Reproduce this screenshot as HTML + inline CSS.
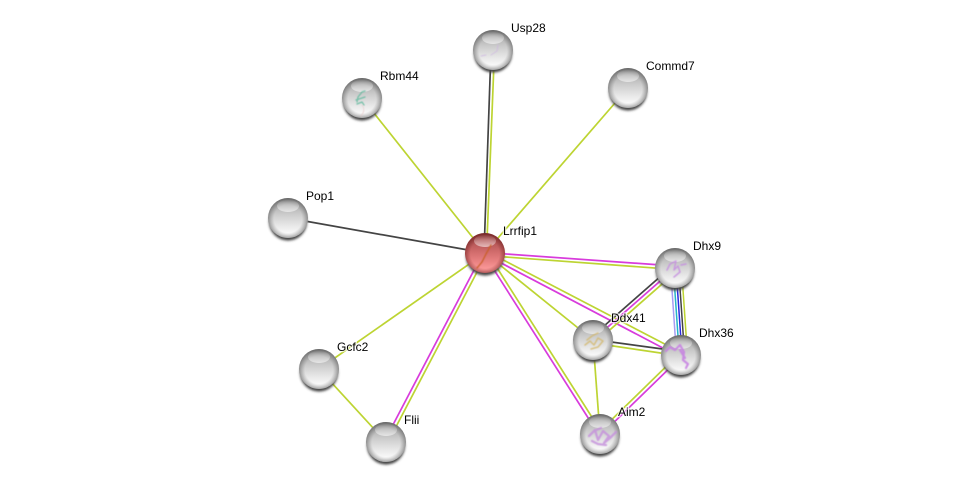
<!DOCTYPE html>
<html>
<head>
<meta charset="utf-8">
<style>
html,body{margin:0;padding:0;background:#fff;}
svg{display:block;}
text{font-family:"Liberation Sans",sans-serif;font-size:12px;fill:#000;paint-order:stroke;stroke:#fff;stroke-width:2.5px;stroke-opacity:.7;}
</style>
</head>
<body>
<svg width="976" height="487" viewBox="0 0 976 487" xmlns="http://www.w3.org/2000/svg">
<defs>
<linearGradient id="g" x1="0" y1="0" x2="0" y2="1">
<stop offset="0" stop-color="#7f7f7f"/>
<stop offset=".12" stop-color="#a8a8a8"/>
<stop offset=".4" stop-color="#cbcbcb"/>
<stop offset=".65" stop-color="#e4e4e4"/>
<stop offset=".9" stop-color="#fbfbfb"/>
<stop offset="1" stop-color="#efefef"/>
</linearGradient>
<radialGradient id="edge" cx=".5" cy=".52" r=".5">
<stop offset=".7" stop-color="#777" stop-opacity="0"/>
<stop offset="1" stop-color="#5c5c5c" stop-opacity=".6"/>
</radialGradient>
<linearGradient id="hl" x1="0" y1="0" x2="0" y2="1">
<stop offset="0" stop-color="#fff" stop-opacity=".05"/>
<stop offset="1" stop-color="#fff" stop-opacity=".7"/>
</linearGradient>
<linearGradient id="r" x1="0" y1="0" x2="0" y2="1">
<stop offset="0" stop-color="#843636"/>
<stop offset=".14" stop-color="#a84c4c"/>
<stop offset=".45" stop-color="#cf6a6a"/>
<stop offset=".7" stop-color="#e88181"/>
<stop offset=".92" stop-color="#fd9b9b"/>
<stop offset="1" stop-color="#ef8c8c"/>
</linearGradient>
<radialGradient id="redge" cx=".5" cy=".52" r=".5">
<stop offset=".72" stop-color="#702020" stop-opacity="0"/>
<stop offset="1" stop-color="#702020" stop-opacity=".55"/>
</radialGradient>
<filter id="b" x="-30%" y="-30%" width="160%" height="160%"><feGaussianBlur stdDeviation="1.2"/></filter>
<filter id="s" x="-20%" y="-20%" width="140%" height="140%"><feGaussianBlur stdDeviation=".45"/></filter>
<g id="n">
<ellipse cx="0" cy="3.6" rx="19" ry="19" fill="#444" filter="url(#b)"/>
<circle r="20" fill="url(#g)"/>
<circle r="20" fill="url(#edge)"/>
<ellipse cx="0" cy="-12" rx="11" ry="6" fill="url(#hl)" opacity=".8"/>
</g>
<g id="nr">
<ellipse cx="0" cy="3.6" rx="19" ry="19" fill="#444" filter="url(#b)"/>
<circle r="20" fill="url(#r)"/>
<circle r="20" fill="url(#redge)"/>
<ellipse cx="0" cy="-12" rx="11" ry="6" fill="url(#hl)" opacity=".8"/>
</g>
</defs>

<g fill="none" stroke-width="1.7" stroke-linecap="butt">
<line x1="484" y1="253" x2="491" y2="50" stroke="#444"/>
<line x1="486.5" y1="253" x2="494.5" y2="50" stroke="#bdd432"/>
<line x1="485" y1="253" x2="628" y2="88" stroke="#bdd432"/>
<line x1="485" y1="253" x2="362" y2="98" stroke="#bdd432"/>
<line x1="485" y1="253" x2="288" y2="218" stroke="#444"/>
<line x1="485" y1="253" x2="319" y2="369" stroke="#bdd432"/>
<line x1="483.5" y1="252" x2="384.5" y2="441" stroke="#d83bdc"/>
<line x1="486.5" y1="254" x2="387.5" y2="443" stroke="#bdd432"/>
<line x1="485" y1="252.5" x2="675" y2="266" stroke="#d83bdc"/>
<line x1="485" y1="255.5" x2="675" y2="269.5" stroke="#bdd432"/>
<line x1="485" y1="253" x2="593" y2="340" stroke="#bdd432"/>
<line x1="486" y1="251" x2="682" y2="353" stroke="#bdd432"/>
<line x1="484" y1="254" x2="680" y2="357" stroke="#d83bdc"/>
<line x1="487" y1="252" x2="602" y2="433" stroke="#bdd432"/>
<line x1="484" y1="254" x2="599" y2="435" stroke="#d83bdc"/>
<line x1="319" y1="369" x2="386" y2="442" stroke="#bdd432"/>
<line x1="593" y1="340" x2="600" y2="434" stroke="#bdd432"/>
<line x1="593" y1="339.5" x2="681" y2="351.5" stroke="#444"/>
<line x1="593" y1="343" x2="681" y2="356" stroke="#bdd432"/>
<line x1="591.5" y1="337" x2="673.5" y2="265" stroke="#444"/>
<line x1="593" y1="340" x2="675" y2="268" stroke="#d83bdc"/>
<line x1="595.5" y1="342.5" x2="677.5" y2="270.5" stroke="#bdd432"/>
<line x1="680" y1="353" x2="599" y2="432" stroke="#bdd432"/>
<line x1="682" y1="356" x2="601" y2="435" stroke="#d83bdc"/>
<g stroke-width="1.5">
<line x1="670.5" y1="268" x2="676.5" y2="355" stroke="#a79cf2"/>
<line x1="673.3" y1="268" x2="679.3" y2="355" stroke="#25b5c8"/>
<line x1="676" y1="268" x2="682" y2="355" stroke="#2a2ae0"/>
<line x1="678.6" y1="268" x2="684.6" y2="355" stroke="#444"/>
<line x1="681.5" y1="268" x2="687.5" y2="355" stroke="#bdd432"/>
</g>
</g>

<use href="#n" x="493" y="50"/>
<use href="#n" x="628" y="88"/>
<use href="#n" x="362" y="98"/>
<use href="#n" x="288" y="218"/>
<use href="#n" x="319" y="369"/>
<use href="#n" x="386" y="442"/>
<use href="#n" x="600" y="434"/>
<use href="#n" x="593" y="340"/>
<use href="#n" x="681" y="355"/>
<use href="#n" x="675" y="268"/>
<use href="#nr" x="485" y="253"/>

<g fill="none" stroke-linecap="round" stroke-linejoin="round" filter="url(#s)">
<path d="M477 268 L482 262 L486 254 L491 245" stroke="#c9602c" stroke-width="1.3"/>
<path d="M357 102 L358 97 L362 92 L365 91 M356 100 L365 97 M357 104 L362 102 L364 105" stroke="#5ab89a" stroke-width="1.3" opacity=".8"/>
<path d="M362 105 Q366 110 361 116" stroke="#e8c8c8" stroke-width=".6"/>
<path d="M481 56 L486 55 M491 55 L497 51 L498 45" stroke="#cdb4e2" stroke-width=".7"/>
<path d="M667 270 L670 264 L676 261 L674 270 L678 266 L680 272 L674 277 M681 265 L686 264" stroke="#c58fe0" stroke-width="1.5" opacity=".85"/>
<path d="M670 347 L675 350 L680 345 L684 352 L683 360 L688 364 L686 368 M670 347 L666 351 M680 350 L685 358" stroke="#c67fe2" stroke-width="2.2" opacity=".85"/>
<path d="M585 345 L590 341 L594 345 L598 338 L603 341 L598 347 L591 349 M587 340 L592 336 L598 333" stroke="#d3b86c" stroke-width="1.5" opacity=".8"/>
<path d="M589 436 L595 430 L598 440 L603 431 L609 436 L604 443 L610 438 L616 432 M592 441 L598 444 L606 445 M594 431 L601 428" stroke="#c48fdc" stroke-width="2.3" opacity=".8"/>
</g>

<text x="511" y="32">Usp28</text>
<text x="646" y="70">Commd7</text>
<text x="380" y="80">Rbm44</text>
<text x="306" y="200">Pop1</text>
<text x="503" y="235">Lrrfip1</text>
<text x="693" y="250">Dhx9</text>
<text x="611" y="322">Ddx41</text>
<text x="699" y="337">Dhx36</text>
<text x="337" y="351">Gcfc2</text>
<text x="618" y="416">Aim2</text>
<text x="404" y="424">Flii</text>
</svg>
</body>
</html>
